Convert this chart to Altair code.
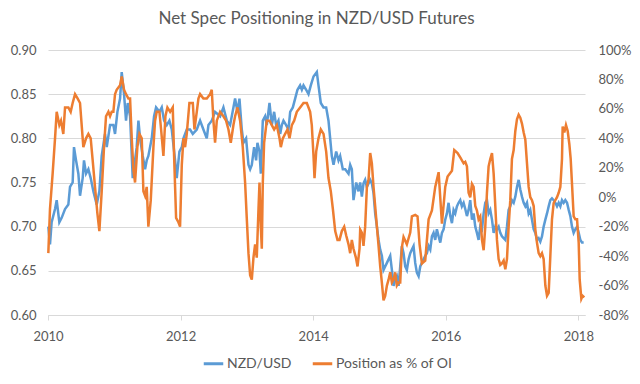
import altair as alt
import pandas as pd

title_text = "Net Spec Positioning in NZD/USD Futures"
series_names = ["NZD/USD", "Position as % of OI"]
series_colors = ["#5B9BD5", "#ED7D31"]
x_ticks = [2010, 2012, 2014, 2016, 2018]
left_ticks = [0.60, 0.65, 0.70, 0.75, 0.80, 0.85, 0.90]
right_ticks = [-80, -60, -40, -20, 0, 20, 40, 60, 80, 100]

# NZD/USD (decimal year, rate)
nzd_t = [2010.005, 2010.030, 2010.055, 2010.106, 2010.131, 2010.171, 2010.206, 2010.257, 2010.307, 2010.332,
         2010.372, 2010.392, 2010.423, 2010.458, 2010.483, 2010.523, 2010.543, 2010.574, 2010.609, 2010.644,
         2010.684, 2010.735, 2010.775, 2010.810, 2010.860, 2010.886, 2010.936, 2010.986, 2011.011, 2011.047,
         2011.087, 2011.112, 2011.147, 2011.177, 2011.203, 2011.238, 2011.278, 2011.338, 2011.364, 2011.389,
         2011.429, 2011.464, 2011.489, 2011.514, 2011.565, 2011.600, 2011.630, 2011.681, 2011.716, 2011.751,
         2011.791, 2011.831, 2011.867, 2011.917, 2011.942, 2011.982, 2012.018, 2012.043, 2012.093, 2012.143,
         2012.184, 2012.244, 2012.294,
         2012.344, 2012.395, 2012.420, 2012.470, 2012.520, 2012.596, 2012.646, 2012.697, 2012.747, 2012.797,
         2012.822, 2012.858, 2012.888, 2012.923, 2012.948, 2012.988, 2013.024, 2013.049, 2013.074, 2013.109,
         2013.139, 2013.159, 2013.190, 2013.210, 2013.240, 2013.275, 2013.300, 2013.341, 2013.376, 2013.411,
         2013.441, 2013.476, 2013.502, 2013.527, 2013.552, 2013.592, 2013.627, 2013.653, 2013.693, 2013.728,
         2013.763, 2013.803, 2013.829, 2013.854, 2013.894, 2013.929, 2013.964, 2014.005, 2014.055, 2014.080,
         2014.115, 2014.156, 2014.196, 2014.231, 2014.256, 2014.281, 2014.307, 2014.347, 2014.382, 2014.407,
         2014.447, 2014.483, 2014.533, 2014.558, 2014.583, 2014.608, 2014.649, 2014.684,
         2014.709, 2014.734, 2014.759, 2014.784, 2014.810, 2014.835, 2014.860, 2014.885, 2014.910, 2014.935,
         2014.961, 2014.986, 2015.011, 2015.036, 2015.061, 2015.086, 2015.112, 2015.137, 2015.162, 2015.187,
         2015.212, 2015.237, 2015.262, 2015.288, 2015.313, 2015.338, 2015.363, 2015.388, 2015.413, 2015.439,
         2015.464, 2015.489, 2015.514, 2015.539, 2015.564, 2015.590, 2015.615, 2015.640, 2015.665, 2015.690,
         2015.715, 2015.741, 2015.766, 2015.791, 2015.816, 2015.841, 2015.866, 2015.892, 2015.917, 2015.942,
         2015.967, 2015.992, 2016.017, 2016.042, 2016.068, 2016.093, 2016.118, 2016.143, 2016.168, 2016.193,
         2016.218, 2016.243, 2016.269,
         2016.294, 2016.319, 2016.344, 2016.369, 2016.395, 2016.420, 2016.445, 2016.470, 2016.495, 2016.520,
         2016.546, 2016.571, 2016.596, 2016.621, 2016.646, 2016.671, 2016.697, 2016.722, 2016.747, 2016.772,
         2016.797, 2016.822, 2016.847, 2016.873, 2016.898, 2016.923, 2016.948, 2016.973, 2016.998, 2017.024,
         2017.049, 2017.074, 2017.099, 2017.124, 2017.149, 2017.175, 2017.200, 2017.225, 2017.250, 2017.275,
         2017.300, 2017.326, 2017.351, 2017.376, 2017.401, 2017.426, 2017.451, 2017.476, 2017.502, 2017.527,
         2017.552, 2017.577, 2017.602, 2017.627, 2017.653, 2017.678, 2017.703, 2017.728, 2017.753, 2017.778,
         2017.803, 2017.829, 2017.854, 2017.879, 2017.904, 2017.929, 2017.954, 2017.980, 2018.005, 2018.030,
         2018.055, 2018.080]
nzd_v = [0.700, 0.680, 0.705, 0.720, 0.730, 0.705, 0.710, 0.720, 0.725, 0.745,
         0.750, 0.790, 0.775, 0.760, 0.735, 0.755, 0.775, 0.760, 0.765, 0.755,
         0.740, 0.725, 0.740, 0.780, 0.805, 0.790, 0.815, 0.815, 0.805, 0.830,
         0.845, 0.875, 0.850, 0.820, 0.840, 0.825, 0.755, 0.790, 0.820, 0.800,
         0.780, 0.765, 0.775, 0.780, 0.800, 0.825, 0.835, 0.830, 0.835, 0.820,
         0.815, 0.820, 0.810, 0.775, 0.755, 0.785, 0.790, 0.800, 0.810, 0.810,
         0.805, 0.810, 0.820,
         0.810, 0.800, 0.815, 0.820, 0.830, 0.825, 0.835, 0.820, 0.815, 0.835,
         0.845, 0.830, 0.845, 0.810, 0.795, 0.800, 0.770, 0.765, 0.770, 0.790,
         0.775, 0.795, 0.785, 0.760, 0.820, 0.825, 0.815, 0.840, 0.815, 0.830,
         0.815, 0.820, 0.805, 0.815, 0.820, 0.815, 0.810, 0.830, 0.835, 0.845,
         0.855, 0.860, 0.855, 0.860, 0.855, 0.850, 0.860, 0.870, 0.875, 0.860,
         0.840, 0.835, 0.835, 0.820, 0.800, 0.780, 0.770, 0.785, 0.775, 0.780,
         0.765, 0.765, 0.760, 0.770, 0.765, 0.730, 0.750, 0.740,
         0.750, 0.734, 0.749, 0.753, 0.745, 0.749, 0.753, 0.749, 0.738, 0.715,
         0.700, 0.685, 0.674, 0.667, 0.651, 0.655, 0.659, 0.663, 0.667, 0.651,
         0.633, 0.640, 0.644, 0.633, 0.655, 0.678, 0.670, 0.655, 0.651, 0.663,
         0.670, 0.674, 0.678, 0.659, 0.648, 0.644, 0.655, 0.659, 0.663, 0.667,
         0.670, 0.678, 0.674, 0.689, 0.693, 0.685, 0.697, 0.689, 0.682, 0.693,
         0.697, 0.708, 0.715, 0.727, 0.712, 0.704, 0.719, 0.715, 0.723, 0.727,
         0.730, 0.723, 0.727,
         0.720, 0.712, 0.719, 0.730, 0.708, 0.715, 0.700, 0.693, 0.685, 0.700,
         0.697, 0.715, 0.727, 0.730, 0.715, 0.719, 0.708, 0.693, 0.700, 0.697,
         0.700, 0.693, 0.689, 0.687, 0.685, 0.700, 0.719, 0.723, 0.730, 0.727,
         0.734, 0.745, 0.753, 0.742, 0.734, 0.727, 0.723, 0.727, 0.715, 0.719,
         0.708, 0.697, 0.693, 0.685, 0.687, 0.683, 0.689, 0.700, 0.708, 0.715,
         0.723, 0.730, 0.732, 0.730, 0.727, 0.723, 0.727, 0.723, 0.730, 0.727,
         0.730, 0.727, 0.719, 0.712, 0.700, 0.693, 0.697, 0.700, 0.693, 0.685,
         0.682, 0.682]

# Net speculative position as % of open interest (decimal year, percent)
pos_t = [2010.005, 2010.030, 2010.070, 2010.106, 2010.131, 2010.171, 2010.196, 2010.231, 2010.257, 2010.307,
         2010.342, 2010.372, 2010.408, 2010.448, 2010.483, 2010.508, 2010.533, 2010.574, 2010.609, 2010.644,
         2010.674, 2010.709, 2010.745, 2010.775, 2010.810, 2010.845, 2010.875, 2010.911, 2010.936, 2010.961,
         2010.986, 2011.011, 2011.036, 2011.087, 2011.112, 2011.147, 2011.177, 2011.213, 2011.238, 2011.263,
         2011.288, 2011.313, 2011.348, 2011.379, 2011.414, 2011.439, 2011.464, 2011.489, 2011.514, 2011.550,
         2011.590, 2011.615, 2011.640, 2011.681, 2011.706, 2011.741, 2011.771, 2011.801, 2011.842, 2011.882,
         2011.902, 2011.932, 2011.967, 2011.992, 2012.018, 2012.043, 2012.068, 2012.093, 2012.133, 2012.184,
         2012.209, 2012.244, 2012.269,
         2012.294, 2012.344, 2012.395, 2012.445, 2012.470, 2012.495, 2012.520, 2012.546, 2012.596, 2012.646,
         2012.686, 2012.722, 2012.757, 2012.797, 2012.822, 2012.858, 2012.898, 2012.938, 2012.973, 2012.998,
         2013.024, 2013.049, 2013.074, 2013.099, 2013.124, 2013.149, 2013.175, 2013.190, 2013.210, 2013.225,
         2013.240, 2013.260, 2013.300, 2013.341, 2013.376, 2013.411, 2013.451, 2013.492, 2013.512, 2013.542,
         2013.577, 2013.612, 2013.643, 2013.678, 2013.713, 2013.753, 2013.803, 2013.854, 2013.904, 2013.954,
         2013.979, 2014.005, 2014.020, 2014.045, 2014.080, 2014.115, 2014.156, 2014.196, 2014.231, 2014.266,
         2014.297, 2014.332, 2014.367, 2014.397, 2014.432, 2014.468, 2014.498, 2014.533, 2014.558, 2014.583,
         2014.608, 2014.644, 2014.669, 2014.699,
         2014.709, 2014.734, 2014.759, 2014.784, 2014.810, 2014.835, 2014.860, 2014.885, 2014.910, 2014.935,
         2014.961, 2014.986, 2015.011, 2015.036, 2015.061, 2015.086, 2015.112, 2015.137, 2015.162, 2015.187,
         2015.212, 2015.237, 2015.262, 2015.288, 2015.313, 2015.338, 2015.363, 2015.413, 2015.464, 2015.489,
         2015.539, 2015.574, 2015.605, 2015.640, 2015.690, 2015.741, 2015.791, 2015.841, 2015.892, 2015.942,
         2015.992, 2016.027, 2016.093, 2016.128, 2016.178, 2016.218, 2016.269,
         2016.294, 2016.319, 2016.344, 2016.369, 2016.395, 2016.420, 2016.445, 2016.470, 2016.495, 2016.520,
         2016.546, 2016.571, 2016.596, 2016.621, 2016.646, 2016.671, 2016.697, 2016.722, 2016.747, 2016.772,
         2016.797, 2016.822, 2016.847, 2016.873, 2016.898, 2016.923, 2016.948, 2016.973, 2016.998, 2017.024,
         2017.049, 2017.074, 2017.099, 2017.124, 2017.149, 2017.175, 2017.200, 2017.225, 2017.250, 2017.275,
         2017.300, 2017.326, 2017.351, 2017.376, 2017.401, 2017.426, 2017.451, 2017.476, 2017.502, 2017.527,
         2017.552, 2017.577, 2017.602, 2017.627, 2017.653, 2017.678, 2017.703, 2017.728, 2017.753, 2017.763,
         2017.788, 2017.813, 2017.839, 2017.864, 2017.884, 2017.904, 2017.929, 2017.954, 2017.980, 2018.005,
         2018.020, 2018.045, 2018.065, 2018.090]
pos_p = [-38, -8, 16, 40, 58, 49, 52, 43, 61, 61,
         58, 64, 70, 67, 64, 49, 34, 40, 43, 40,
         25, 7, -11, -23, 4, 34, 55, 58, 55, 58,
         58, 70, 73, 76, 82, 73, 70, 67, 67, 40,
         19, 10, 34, 43, 40, 4, 1, 7, -20, -2,
         34, 52, 58, 58, 46, 28, 55, 61, 58, 61,
         28, -14, -17, -20, 22, 40, 34, 43, 64, 64,
         46, 58, 67,
         70, 67, 67, 70, 73, 52, 37, 52, 58, 55,
         52, 46, 37, 49, 55, 61, 52, 34, 10, -14,
         -38, -53, -56, -41, -32, -41, -8, 10, -20, -35,
         10, 37, 52, 52, 49, 46, 49, 40, 34, 40,
         43, 46, 40, 49, 52, 58, 61, 64, 64, 58,
         49, 28, 13, 31, 40, 46, 43, 31, 13, 4,
         -8, -23, -29, -29, -23, -20, -26, -32, -38, -29,
         -35, -41, -47, -35,
         -22, -24, -33, -20, 7, 12, 30, 23, 7, -6,
         -20, -33, -47, -58, -70, -67, -60, -56, -51, -58,
         -56, -51, -60, -58, -58, -34, -27, -32, -24, -13,
         -12, -13, -32, -45, -43, -15, -9, 7, 17, -18,
         7, 14, 18, 32, 30, 27, 23,
         24, 21, 3, 0, 9, 7, -6, -9, -15, -13,
         -29, -36, -20, 3, 21, 26, 30, 16, -6, -29,
         -42, -46, -45, -43, -49, -42, -20, -2, 26, 32,
         45, 53, 56, 54, 50, 44, 39, 23, 7, 0,
         -2, -6, -22, -31, -38, -40, -38, -42, -60, -67,
         -65, -40, -15, -4, -2, 0, 3, 7, 26, 48,
         44, 49, 45, 36, 26, 9, -13, -15, -15, -31,
         -56, -69, -67, -68]

df_nzd = pd.DataFrame({"t": nzd_t, "v": nzd_v, "s": series_names[0]})
df_pos = pd.DataFrame({"t": pos_t, "v": pos_p, "s": series_names[1]})

TXT = "#595959"
GRID = "#D9D9D9"
FONT = "Lato"

color = alt.Color(
    "s:N",
    scale=alt.Scale(domain=series_names, range=series_colors),
    legend=alt.Legend(
        title=None, orient="none", legendX=154, legendY=302, direction="horizontal",
        symbolType="stroke", symbolStrokeWidth=3, symbolSize=380,
        labelFontSize=14, labelColor=TXT, labelFont=FONT, columnPadding=14,
        symbolOffset=0, labelOffset=2,
    ),
)

x_enc = alt.X(
    "t:Q",
    scale=alt.Scale(domain=[2010, 2018.1], nice=False, zero=False),
    axis=alt.Axis(
        values=x_ticks, format="d", title=None, grid=False, labelFlush=False,
        domainColor=GRID, tickColor=GRID, tickSize=5,
        labelColor=TXT, labelFontSize=13, labelFont=FONT, labelPadding=10,
    ),
)

left = alt.Chart(df_nzd).mark_line(strokeWidth=2.5).encode(
    x=x_enc,
    y=alt.Y(
        "v:Q",
        scale=alt.Scale(domain=[0.60, 0.90], nice=False, zero=False),
        axis=alt.Axis(
            values=left_ticks, format=".2f", orient="left", title=None,
            grid=True, gridColor=GRID, domain=False, ticks=False,
            labelColor=TXT, labelFontSize=13, labelFont=FONT, labelPadding=12,
            minExtent=40, maxExtent=40,
        ),
    ),
    color=color,
)

right = alt.Chart(df_pos).mark_line(strokeWidth=2.5).encode(
    x=x_enc,
    y=alt.Y(
        "v:Q",
        scale=alt.Scale(domain=[-80, 100], nice=False, zero=False),
        axis=alt.Axis(
            values=right_ticks, orient="right", title=None, labelExpr="datum.value + '%'",
            grid=False, domain=False, ticks=False,
            labelColor=TXT, labelFontSize=13, labelFont=FONT, labelPadding=13,
        ),
    ),
    color=color,
)

chart = (
    alt.layer(left, right)
    .resolve_scale(y="independent")
    .properties(
        width=537, height=265,
        padding={"left": 0, "top": 2, "right": 0, "bottom": 0},
        title=alt.Title(title_text, fontSize=17, font=FONT, fontWeight="normal", color=TXT,
                        anchor="middle", offset=16),
    )
    .configure_view(stroke=None)
)

chart.save("out.html", embed_options={"renderer": "svg", "actions": False})
